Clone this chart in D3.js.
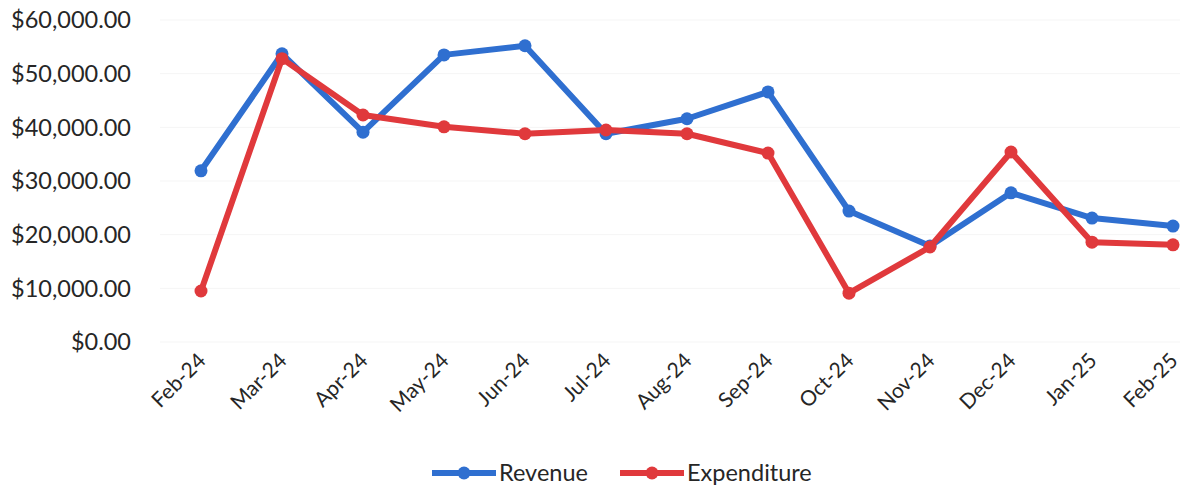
<!DOCTYPE html>
<html>
<head>
<meta charset="utf-8">
<script src="https://cdn.jsdelivr.net/npm/d3@7"></script>
<style>
  body { margin: 0; background: #fff; }
  text { font-family: Lato, "Open Sans", sans-serif; fill: #262626; }
</style>
</head>
<body>
<svg id="chart" width="1185" height="492"></svg>
<script>
// data
var months = ["Feb-24","Mar-24","Apr-24","May-24","Jun-24","Jul-24","Aug-24","Sep-24","Oct-24","Nov-24","Dec-24","Jan-25","Feb-25"];
var revenue = [31900, 53700, 39100, 53500, 55200, 38800, 41600, 46600, 24400, 17900, 27800, 23100, 21600];
var expenditure = [9500, 52800, 42300, 40100, 38800, 39500, 38800, 35200, 9100, 17700, 35400, 18600, 18100];
var yTicks = [0, 10000, 20000, 30000, 40000, 50000, 60000];

var svg = d3.select("#chart");
var plotLeft = 160, plotTop = 20, plotBottom = 342;

var x = d3.scalePoint().domain(months).range([201, 1173]);
var y = d3.scaleLinear().domain([0, 60000]).range([plotBottom, plotTop]);

var fmt = function(d){ return "$" + d3.format(",.2f")(d); };

// faint gridlines
svg.append("g").selectAll("line")
  .data(yTicks).enter().append("line")
    .attr("x1", plotLeft).attr("x2", 1180)
    .attr("y1", function(d){ return y(d); })
    .attr("y2", function(d){ return y(d); })
    .attr("stroke", "#f5f5f5").attr("stroke-width", 1);

// y labels
svg.append("g").selectAll("text")
  .data(yTicks).enter().append("text")
    .attr("x", 131)
    .attr("y", function(d){ return y(d); })
    .attr("dy", "0.35em")
    .attr("text-anchor", "end")
    .style("font-size", "23.5px")
    .text(fmt);

// x labels rotated
svg.append("g").selectAll("text")
  .data(months).enter().append("text")
    .attr("transform", function(d){ return "translate(" + (x(d) + 6) + ",362) rotate(-45)"; })
    .attr("text-anchor", "end")
    .style("font-size", "21px")
    .text(function(d){ return d; });

var series = [
  {name: "Revenue", values: revenue, color: "#2f6fd0"},
  {name: "Expenditure", values: expenditure, color: "#e0393c"}
];

var line = d3.line()
  .x(function(d, i){ return x(months[i]); })
  .y(function(d){ return y(d); });

series.forEach(function(s){
  svg.append("path")
    .datum(s.values)
    .attr("d", line)
    .attr("fill", "none")
    .attr("stroke", s.color)
    .attr("stroke-width", 6)
    .attr("stroke-linejoin", "round");
  svg.append("g").selectAll("circle")
    .data(s.values).enter().append("circle")
      .attr("cx", function(d, i){ return x(months[i]); })
      .attr("cy", function(d){ return y(d); })
      .attr("r", 6.5)
      .attr("fill", s.color);
});

// legend
var legendX = [432, 620];
series.forEach(function(s, i){
  var g = svg.append("g").attr("transform", "translate(" + legendX[i] + ",473)");
  g.append("line").attr("x1", 0).attr("x2", 64).attr("y1", 0).attr("y2", 0)
    .attr("stroke", s.color).attr("stroke-width", 6);
  g.append("circle").attr("cx", 32).attr("cy", 0).attr("r", 6.5).attr("fill", s.color);
  g.append("text").attr("x", 67).attr("y", 0).attr("dy", "0.35em")
    .style("font-size", "23.5px").text(s.name);
});
</script>
</body>
</html>
